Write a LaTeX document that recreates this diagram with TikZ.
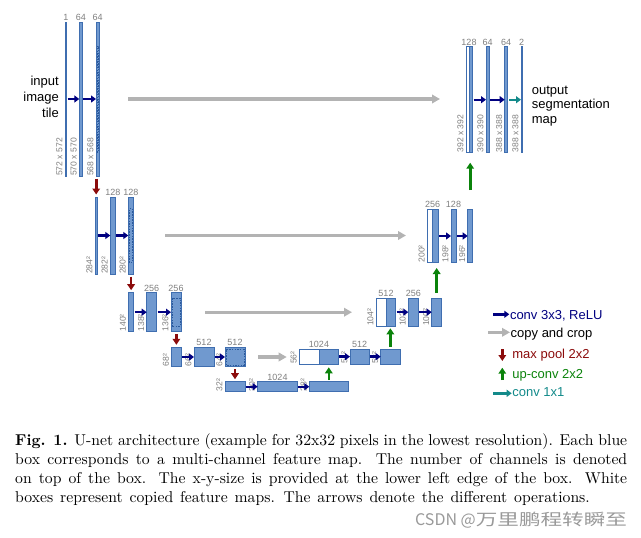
\documentclass[tikz,border=0pt]{standalone}
\usepackage{fontspec}
\usepackage{tikz}
\usetikzlibrary{arrows.meta}
\newfontfamily\arial{Liberation Sans}
\newfontfamily\cjk{Noto Sans CJK SC}
\definecolor{cB}{HTML}{7099CF}
\definecolor{cBd}{HTML}{3F6EB0}
\definecolor{cDs}{HTML}{2C5A9C}
\definecolor{cCv}{HTML}{000080}
\definecolor{cCp}{HTML}{B3B3B3}
\definecolor{cPl}{HTML}{8B0B0B}
\definecolor{cUp}{HTML}{0B830B}
\definecolor{cOne}{HTML}{138A8A}
\definecolor{cLab}{HTML}{7F7F7F}
\tikzset{
  fmap/.style={draw=cBd, fill=cB, line width=0.6pt, inner sep=0pt, outer sep=0pt, anchor=south west},
  cpbox/.style={fmap, fill=white},
  dashin/.style={draw=cDs, line width=0.5pt, dash pattern=on 1.5pt off 1.2pt},
  chan/.style={anchor=south, inner sep=1.2pt, text=cLab, font=\arial\fontsize{9}{9}\selectfont},
  szlab/.style={rotate=90, anchor=south west, inner xsep=0pt, inner ysep=2.3pt, text=cLab, font=\arial\fontsize{8.6}{9}\selectfont},
  conv/.style={-{Triangle[length=5pt,width=7pt]}, line width=2.4pt, cCv},
  one/.style={conv, cOne},
  copyarr/.style={-{Triangle[length=8pt,width=8.5pt]}, line width=3.4pt, cCp},
  pool/.style={-{Triangle[length=6pt,width=7.5pt]}, line width=2.6pt, cPl},
  upc/.style={-{Triangle[length=6pt,width=7.5pt]}, line width=2.6pt, cUp},
  legtxt/.style={anchor=base west, inner sep=0.5pt, font=\arial\fontsize{13}{13}\selectfont},
}

\begin{document}
\begin{tikzpicture}[x=1pt, y=-1pt]
\useasboundingbox (0,0) rectangle (641,538);
% feature maps: name/style/left/bottom/width/height
\foreach \n/\s/\x/\y/\w/\h in {
  d1a/fmap/65/176/1.6/154, d1b/fmap/79.3/176/3/154, d1c/fmap/96/176/3.2/154,
  d2a/fmap/95/274/2.4/77, d2b/fmap/110.3/274/5/77, d2c/fmap/128.3/274/5/77,
  d3a/fmap/128.5/331.7/5.2/39, d3b/fmap/146.7/331.7/10/39, d3c/fmap/171/331.7/10/39,
  d4a/fmap/171.5/366.7/9.7/19.4, d4b/fmap/194/366.7/20/19.4, d4c/fmap/225/366.7/20/19.4,
  d5a/fmap/225/391.7/20/10, d5b/fmap/257.7/391.7/39.6/10, d5c/fmap/309.3/391.7/39/10,
  u4w/cpbox/299.3/364/19.7/14.7, u4a/fmap/319/364/19.3/14.7, u4b/fmap/350/364/19.3/14.7, u4c/fmap/380.7/364/19.3/14.7,
  u3w/cpbox/376/326/10/27.7, u3a/fmap/386/326/9.7/27.7, u3b/fmap/408.3/326/10/27.7, u3c/fmap/431.7/326/10/27.7,
  u2w/cpbox/427.3/262.7/5.4/53.4, u2a/fmap/432.7/262.7/5.6/53.4, u2b/fmap/451/262.7/5/53.4, u2c/fmap/467.7/262.7/5/53.4,
  u1w/cpbox/466/152.7/3/106, u1a/fmap/469/152.7/3.7/106, u1b/fmap/486/152.7/3.3/106, u1c/fmap/504.7/152.7/3/106,
  u1d/fmap/521/152.7/1.4/106}
  \node[\s, minimum width=\w pt, minimum height=\h pt] (\n) at (\x,\y) {};
% cropped part of the maps that get copied
\foreach \n/\h in {d1c/53, d2c/27, d3c/14.3, d4c/8}
  \draw[dashin] ([xshift=1.2pt,yshift=-\h pt]\n.west) rectangle ([xshift=-1.2pt,yshift=\h pt]\n.east);

% channels on top
\foreach \n/\a/\t in {d1a/north/1, d1b/north/64, d1c/north/64, d2b/north/128, d2c/north/128,
  d3b/north/256, d3c/north/256, d4b/north/512, d4c/north/512, d5b/north/1024,
  u4w/north east/1024, u4b/north/512, u3w/north east/512, u3b/north/256,
  u2w/north east/256, u2b/north/128, u1w/north east/128, u1b/north/64, u1c/north/64, u1d/north/2}
  \node[chan] (\n-c) at (\n.\a) {\t};
% x-y-size at the lower left edge
\foreach \n/\t in {d1a/572 x 572, d1b/570 x 570, d1c/568 x 568, d2a/284², d2b/282², d2c/280²,
  d3a/140², d3b/138², d3c/136², d4a/68², d4b/66², d4c/64², d5a/32², d5b/30², d5c/28²,
  u4w/56², u4b/54², u4c/52², u3w/104², u3b/102², u3c/100², u2w/200², u2b/198², u2c/196²,
  u1w/392 x 392, u1b/390 x 390, u1c/388 x 388, u1d/388 x 388}
  \node[szlab] (\n-s) at (\n.south west) {\t};

% operations
\foreach \a/\b in {d1a/d1b, d1b/d1c, d2a/d2b, d2b/d2c, d3a/d3b, d3b/d3c, d4a/d4b, d4b/d4c,
  d5a/d5b, d5b/d5c, u4a/u4b, u4b/u4c, u3a/u3b, u3b/u3c, u2a/u2b, u2b/u2c, u1a/u1b, u1b/u1c}
  \draw[conv, shorten <=1pt] (\a) -- (\b);
\draw[one, shorten <=1.5pt] (u1c) -- (u1d);
\foreach \a/\b in {d1c/d2a, d2c/d3a, d3c/d4a, d4c/d5a}
  \draw[pool, shorten <=2.5pt, shorten >=2.5pt] (\a.south -| \b.north) -- (\b.north);
\foreach \a/\b/\s/\e in {d5c/u4a/1.7/3.3, u4c/u3a/2.6/2.3, u3c/u2a/5.3/5.3, u2c/u1a/19.3/10}
  \draw[upc, shorten <=\s pt, shorten >=\e pt] (\a.north) -- (\a.north |- \b.south);
\foreach \a/\b/\s/\e in {d1c/u1w/29/26, d2c/u2w/31.7/21.3, d3c/u3w/24/24, d4c/u4w/13.3/12.6}
  \draw[copyarr, shorten <=\s pt, shorten >=\e pt] (\a.east) -- (\a.east -| \b.west);

\node[anchor=north east, align=right, inner sep=0pt, font=\arial\fontsize{13}{15.8}\selectfont] (inp) at (59,75.8) {input\\image\\tile};
\node[anchor=north west, align=left, inner sep=0pt, font=\arial\fontsize{13}{14.5}\selectfont] (outp) at (531.7,85.8) {output\\segmentation\\map};

% legend
\node[legtxt, text=cCv] (lgconv) at (509.3,319) {conv 3x3, ReLU};
\node[legtxt] (lgcopy) at (510,337.3) {copy and crop};
\node[legtxt, text=cPl] (lgpool) at (511.7,358.3) {max pool 2x2};
\node[legtxt, text=cUp] (lgup) at (511.7,378.3) {up-conv 2x2};
\node[legtxt, text=cOne] (lgone) at (511.7,396.7) {conv 1x1};
\coordinate (lc0) at (493.3,314.3);
\coordinate (lk0) at (488.3,332.3);
\coordinate (lp0) at (502.3,349); \coordinate (lp1) at (502.3,361);
\coordinate (lu0) at (502.3,380); \coordinate (lu1) at (502.3,367.7);
\coordinate (lo0) at (493.3,393.3);
\draw[conv] (lc0) -- (lc0 -| lgconv.west);
\draw[copyarr] (lk0) -- (lk0 -| lgcopy.west);
\draw[pool] (lp0) -- (lp1);
\draw[upc] (lu0) -- (lu1);
\draw[one] (lo0) -- (lo0 -| lgone.west);

% caption
\node[anchor=north west, inner sep=0pt] (capt) at (15,433.2) {\scalebox{1.5705}{\parbox{389.7pt}{\fontsize{10}{12.22}\selectfont
  \textbf{Fig. 1.} U-net architecture (example for 32x32 pixels in the lowest resolution). Each blue\linebreak
  box corresponds to a multi-channel feature map. The number of channels is denoted\linebreak
  on top of the box. The x-y-size is provided at the lower left edge of the box. White\linebreak
  {\spaceskip=4.4pt plus 1pt minus 1pt boxes represent copied feature maps. The arrows denote the different operations.}}}};
\node[anchor=base west, inner sep=0pt, text=black!40, font=\cjk\fontsize{16}{16}\selectfont] (wmk) at (415,525.7) {CSDN @\scalebox{1.35}[1]{万里鹏程转瞬至}};
\end{tikzpicture}
\end{document}
